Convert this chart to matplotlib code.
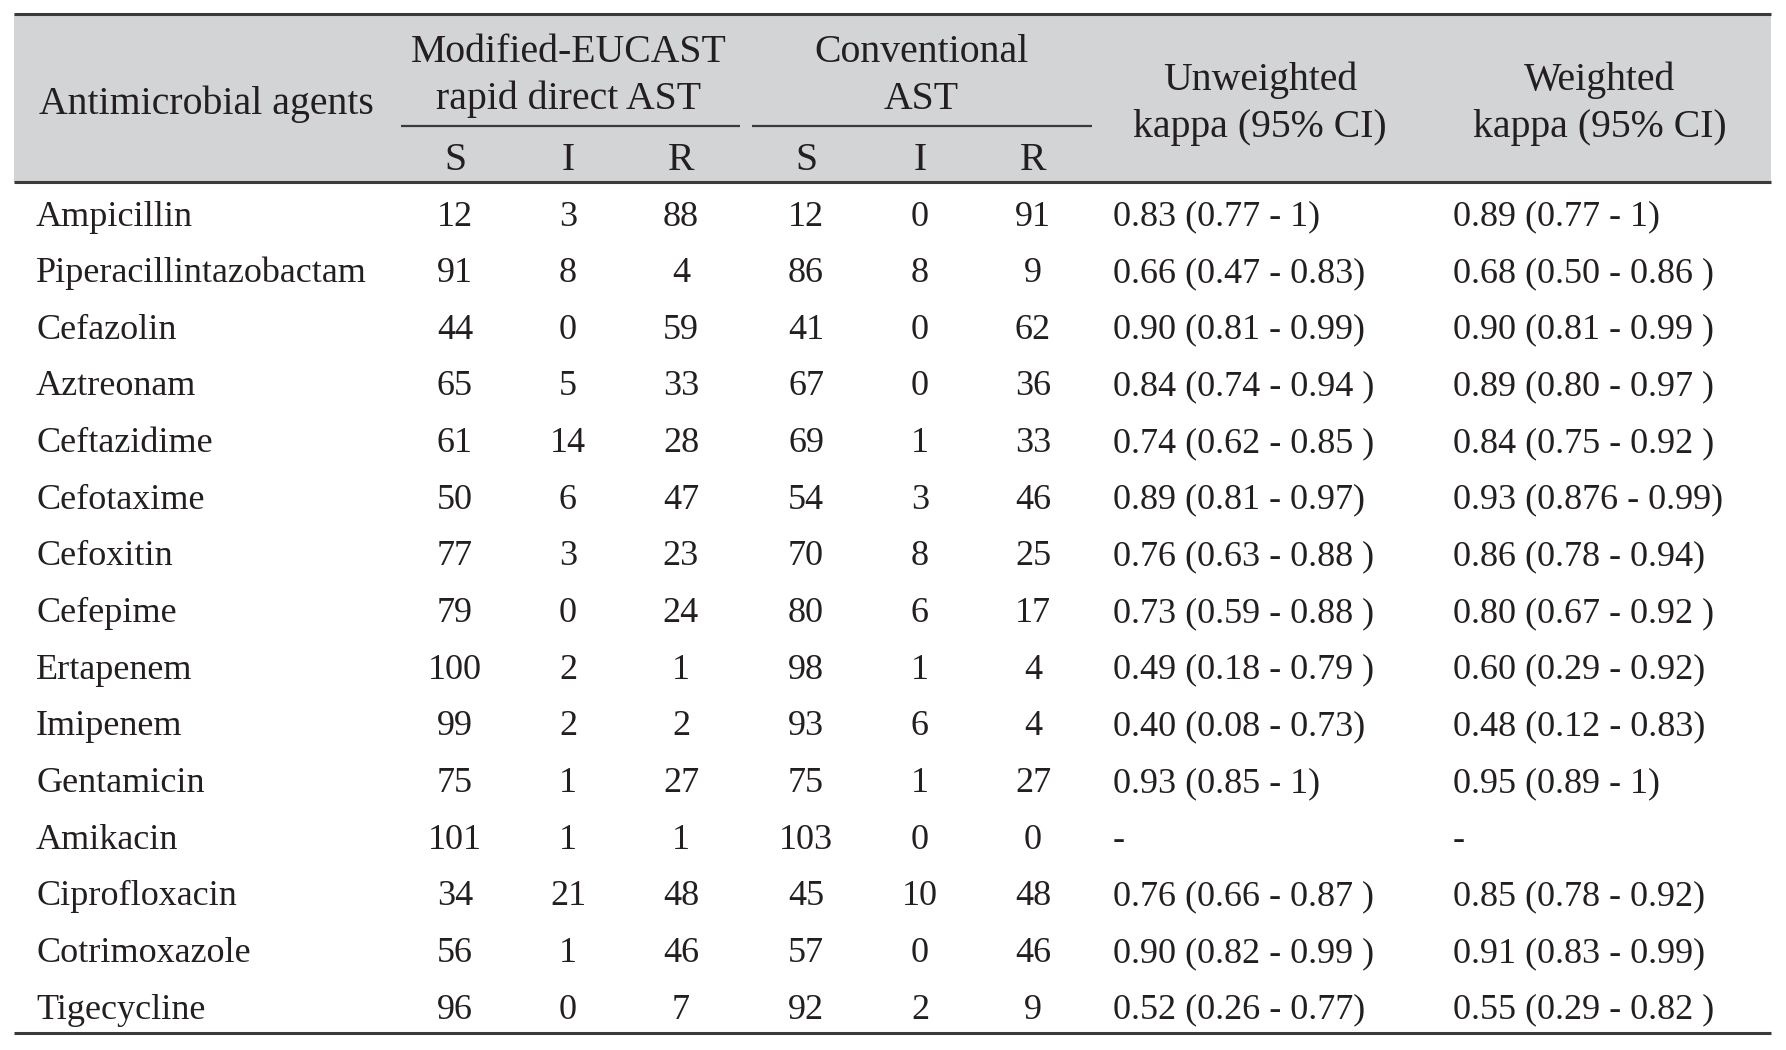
import matplotlib
matplotlib.use("Agg")
import matplotlib.pyplot as plt
from matplotlib.patches import Rectangle

agents = ["Ampicillin", "Piperacillintazobactam", "Cefazolin", "Aztreonam", "Ceftazidime",
          "Cefotaxime", "Cefoxitin", "Cefepime", "Ertapenem", "Imipenem", "Gentamicin",
          "Amikacin", "Ciprofloxacin", "Cotrimoxazole", "Tigecycline"]
rapid_S = [12, 91, 44, 65, 61, 50, 77, 79, 100, 99, 75, 101, 34, 56, 96]
rapid_I = [3, 8, 0, 5, 14, 6, 3, 0, 2, 2, 1, 1, 21, 1, 0]
rapid_R = [88, 4, 59, 33, 28, 47, 23, 24, 1, 2, 27, 1, 48, 46, 7]
conv_S = [12, 86, 41, 67, 69, 54, 70, 80, 98, 93, 75, 103, 45, 57, 92]
conv_I = [0, 8, 0, 0, 1, 3, 8, 6, 1, 6, 1, 0, 10, 0, 2]
conv_R = [91, 9, 62, 36, 33, 46, 25, 17, 4, 4, 27, 0, 48, 46, 9]
unweighted = ["0.83 (0.77 - 1)", "0.66 (0.47 - 0.83)", "0.90 (0.81 - 0.99)", "0.84 (0.74 - 0.94 )",
              "0.74 (0.62 - 0.85 )", "0.89 (0.81 - 0.97)", "0.76 (0.63 - 0.88 )", "0.73 (0.59 - 0.88 )",
              "0.49 (0.18 - 0.79 )", "0.40 (0.08 - 0.73)", "0.93 (0.85 - 1)", "-",
              "0.76 (0.66 - 0.87 )", "0.90 (0.82 - 0.99 )", "0.52 (0.26 - 0.77)"]
weighted = ["0.89 (0.77 - 1)", "0.68 (0.50 - 0.86 )", "0.90 (0.81 - 0.99 )", "0.89 (0.80 - 0.97 )",
            "0.84 (0.75 - 0.92 )", "0.93 (0.876 - 0.99)", "0.86 (0.78 - 0.94)", "0.80 (0.67 - 0.92 )",
            "0.60 (0.29 - 0.92)", "0.48 (0.12 - 0.83)", "0.95 (0.89 - 1)", "-",
            "0.85 (0.78 - 0.92)", "0.91 (0.83 - 0.99)", "0.55 (0.29 - 0.82 )"]
sub_labels = ["S", "I", "R"]

W, H = 1786, 1050
fig = plt.figure(figsize=(W / 100, H / 100), dpi=100)
ax = fig.add_axes([0, 0, 1, 1])
ax.set_xlim(0, W)
ax.set_ylim(H, 0)
ax.axis("off")

FONT = "Liberation Serif"
FS_BODY = 26.0
FS_HEAD = 28.6
TXT = "#231f20"
LINE = "#3a3a3a"

left, right = 14, 1771
top, head_bot, bottom = 14, 182, 1033

ax.add_patch(Rectangle((left, top), right - left, head_bot - top, facecolor="#d3d4d6",
                       edgecolor="none", zorder=0))
ax.plot([left, right], [top, top], color=LINE, lw=2.2, solid_capstyle="butt")
ax.plot([left, right], [head_bot, head_bot], color=LINE, lw=2.2, solid_capstyle="butt")
ax.plot([left, right], [bottom, bottom], color=LINE, lw=2.2, solid_capstyle="butt")
ax.plot([401, 740], [126, 126], color=LINE, lw=1.6, solid_capstyle="butt")
ax.plot([752, 1092], [126, 126], color=LINE, lw=1.6, solid_capstyle="butt")

def t(x, y, s, ha="center", fs=FS_BODY):
    ax.text(x, y, s, ha=ha, va="center_baseline", fontsize=fs, family=FONT, color=TXT)

# header
t(39, 100, "Antimicrobial agents", ha="left", fs=FS_HEAD)
t(569, 48, "Modified-EUCAST", fs=FS_HEAD)
t(569, 95, "rapid direct AST", fs=FS_HEAD)
t(921, 48, "Conventional", fs=FS_HEAD)
t(921, 95, "AST", fs=FS_HEAD)
t(1260, 76, "Unweighted", fs=FS_HEAD)
t(1260, 123, "kappa (95% CI)", fs=FS_HEAD)
t(1600, 76, "Weighted", fs=FS_HEAD)
t(1600, 123, "kappa (95% CI)", fs=FS_HEAD)

col_x = [455, 568, 681, 806, 920, 1033]
for x, lab in zip(col_x, sub_labels * 2):
    t(x, 156, lab, fs=FS_HEAD)

y0, dy = 213, 56.65
cols = [rapid_S, rapid_I, rapid_R, conv_S, conv_I, conv_R]
for i, name in enumerate(agents):
    y = y0 + i * dy
    t(36, y, name, ha="left")
    for x, c in zip(col_x, cols):
        t(x, y, str(c[i]))
    t(1113, y, unweighted[i], ha="left")
    t(1453, y, weighted[i], ha="left")

fig.savefig("out.png", dpi=100, facecolor="white")
